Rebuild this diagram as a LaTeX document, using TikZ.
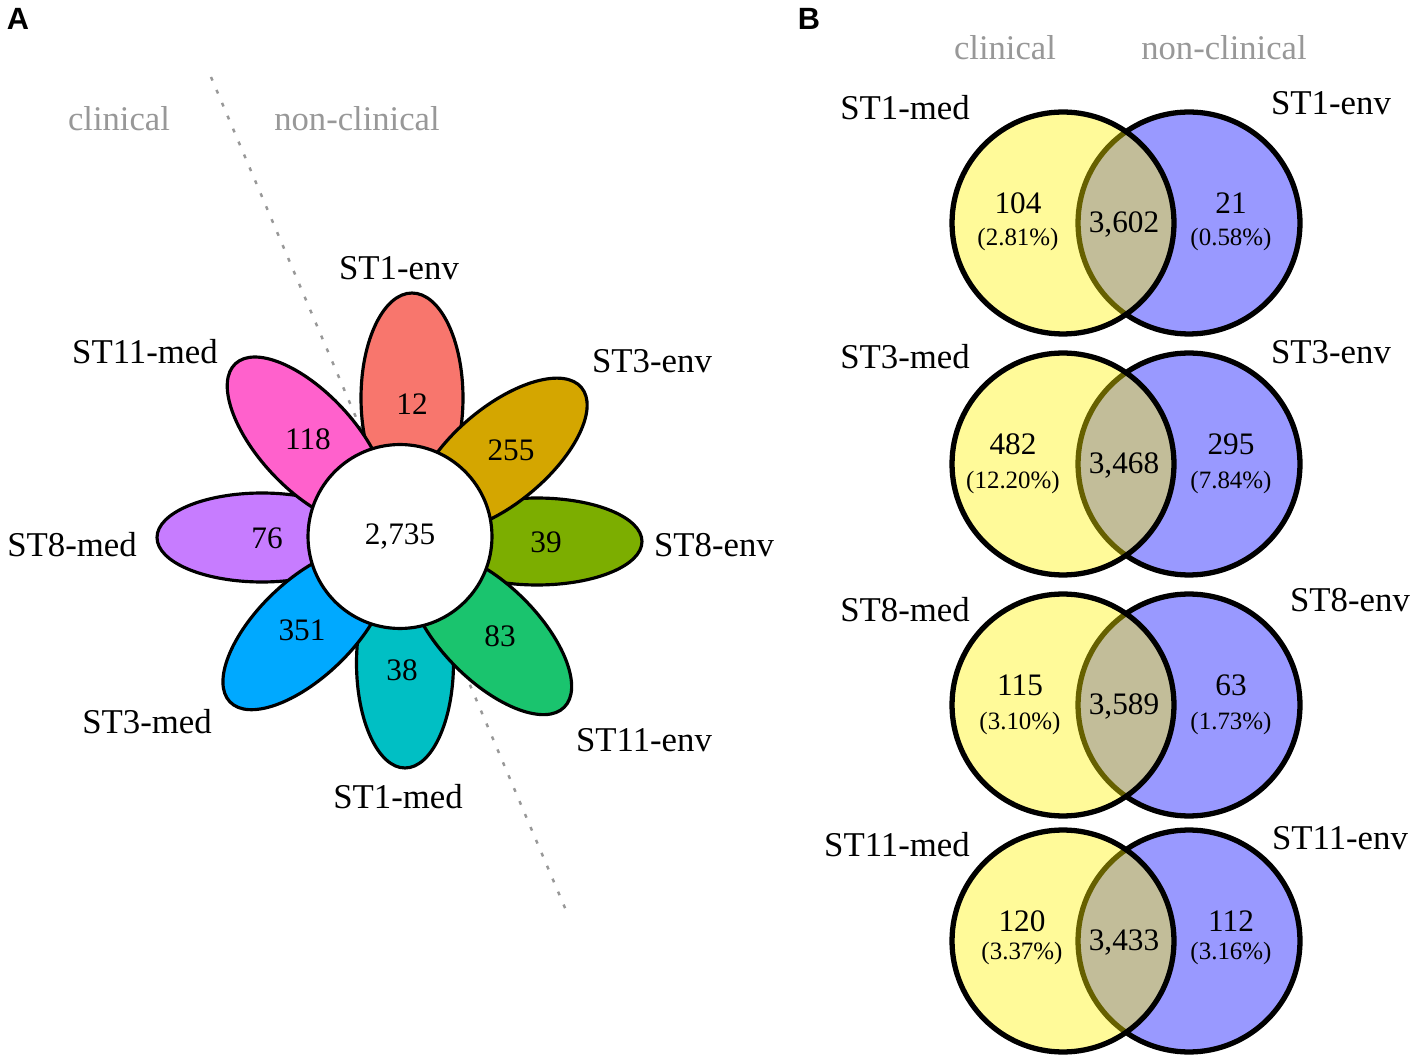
\documentclass[tikz,border=0pt]{standalone}
\usepackage{fontspec}
\setmainfont{Liberation Serif}
\setsansfont{Liberation Sans}

% petal colours
\definecolor{cST1env}{HTML}{F8766D}
\definecolor{cST3env}{HTML}{D4A600}
\definecolor{cST8env}{HTML}{7CAE00}
\definecolor{cST11env}{HTML}{1AC46E}
\definecolor{cST1med}{HTML}{00BFC4}
\definecolor{cST3med}{HTML}{00A9FF}
\definecolor{cST8med}{HTML}{C77CFF}
\definecolor{cST11med}{HTML}{FF61CC}
\definecolor{sidegray}{HTML}{989898}

\tikzset{
  lbl/.style={font=\fontsize{19.8}{22}\selectfont, inner sep=0pt},
  side/.style={font=\fontsize{19.7}{22}\selectfont, text=sidegray, inner sep=0pt},
  num/.style={font=\fontsize{17.8}{20}\selectfont, inner sep=0pt},
  vpct/.style={font=\fontsize{14.2}{16}\selectfont, inner sep=0pt},
  panel/.style={font=\sffamily\bfseries\fontsize{17.5}{20}\selectfont, inner sep=0pt},
  petal/.style={draw=black, line width=1.8pt},
  setcirc/.style={draw=black, line width=3pt, fill opacity=0.4}
}

\begin{document}
\begin{tikzpicture}[x=0.02cm, y=-0.02cm]

\useasboundingbox (0,0) rectangle (1417,1060);

% Panel letters
\node[panel] (A) at (18,19) {A};
\node[panel] (B) at (809,19) {B};

% ---------------- Panel A: flower ----------------
\node[side] (clinA) at (119,119) {clinical};
\node[side] (nonclinA) at (357,119) {non-clinical};

% dividing line
\coordinate (cut top) at (211,77);
\coordinate (cut bottom) at (568,915);
\draw[sidegray, line width=1.4pt, dash pattern=on 2.2pt off 5.8pt] (cut top) -- (cut bottom);

% petals (angle/centre x/centre y/minor radius/colour)
\foreach \ang/\cx/\cy/\b/\col in {
    90/412/398/1.02/cST1env, 90/405/663/0.97/cST1med,
    0/262/537.5/0.89/cST8med, 0/537/541.5/0.87/cST8env,
    133/307/440.5/0.96/cST11med, 40/501/455/0.96/cST3env,
    224/305.5/629/0.96/cST3med, 315/490/633/0.96/cST11env}
  \draw[petal, fill=\col, rotate around={\ang:(\cx,\cy)}]
    (\cx,\cy) ellipse [x radius=2.1cm, y radius=\b cm];

% core
\node[circle, draw=black, line width=1.8pt, fill=white, minimum size=3.68cm,
      inner sep=0pt, num] (core) at (400,536.5) {2,735};

% petal counts
\node[num] (n1env) at (412,404) {12};
\node[num] (n3env) at (511,450) {255};
\node[num] (n8env) at (546,542) {39};
\node[num] (n11env) at (500,636) {83};
\node[num] (n1med) at (402,670) {38};
\node[num] (n3med) at (302,630) {351};
\node[num] (n8med) at (267,538) {76};
\node[num] (n11med) at (308,439) {118};

% petal names
\node[lbl] (l1env) at (399,268) {ST1-env};
\node[lbl] (l3env) at (652,361) {ST3-env};
\node[lbl] (l8env) at (714,545) {ST8-env};
\node[lbl] (l11env) at (644,740) {ST11-env};
\node[lbl] (l1med) at (398,797) {ST1-med};
\node[lbl] (l3med) at (147,722) {ST3-med};
\node[lbl] (l8med) at (72,545) {ST8-med};
\node[lbl] (l11med) at (145,352) {ST11-med};

% ---------------- Panel B: pairwise Venn ----------------
\node[side] (clinB) at (1005,48) {clinical};
\node[side] (nonclinB) at (1224,48) {non-clinical};

\foreach \yc/\mx/\my/\ex/\ey/\mname/\ename/\nl/\xl/\pl/\nm/\nr/\pr/\py in {
    223/905/108/1331/103/ST1-med/ST1-env/104/1018/2.81/{3,602}/21/0.58/240,
    464/905/357/1331/352/ST3-med/ST3-env/482/1013/12.20/{3,468}/295/7.84/483,
    705/905/610/1350/600/ST8-med/ST8-env/115/1020/3.10/{3,589}/63/1.73/723,
    941/897/845/1340/838/ST11-med/ST11-env/120/1022/3.37/{3,433}/112/3.16/953}
{
  \draw[setcirc, fill=blue] (1189,\yc) circle [radius=2.22cm];
  \draw[setcirc, fill=yellow] (1063,\yc) circle [radius=2.22cm];
  \node[lbl] (med\yc) at (\mx,\my) {\mname};
  \node[lbl] (env\yc) at (\ex,\ey) {\ename};
  \node[num] (left\yc) at (\xl,\yc-20) {\nl};
  \node[vpct] (leftp\yc) at (\xl,\py) {(\pl\%)};
  \node[num] (mid\yc) at (1124,\yc+2) {\nm};
  \node[num] (right\yc) at (1231,\yc-20) {\nr};
  \node[vpct] (rightp\yc) at (1231,\py) {(\pr\%)};
}

\end{tikzpicture}
\end{document}
